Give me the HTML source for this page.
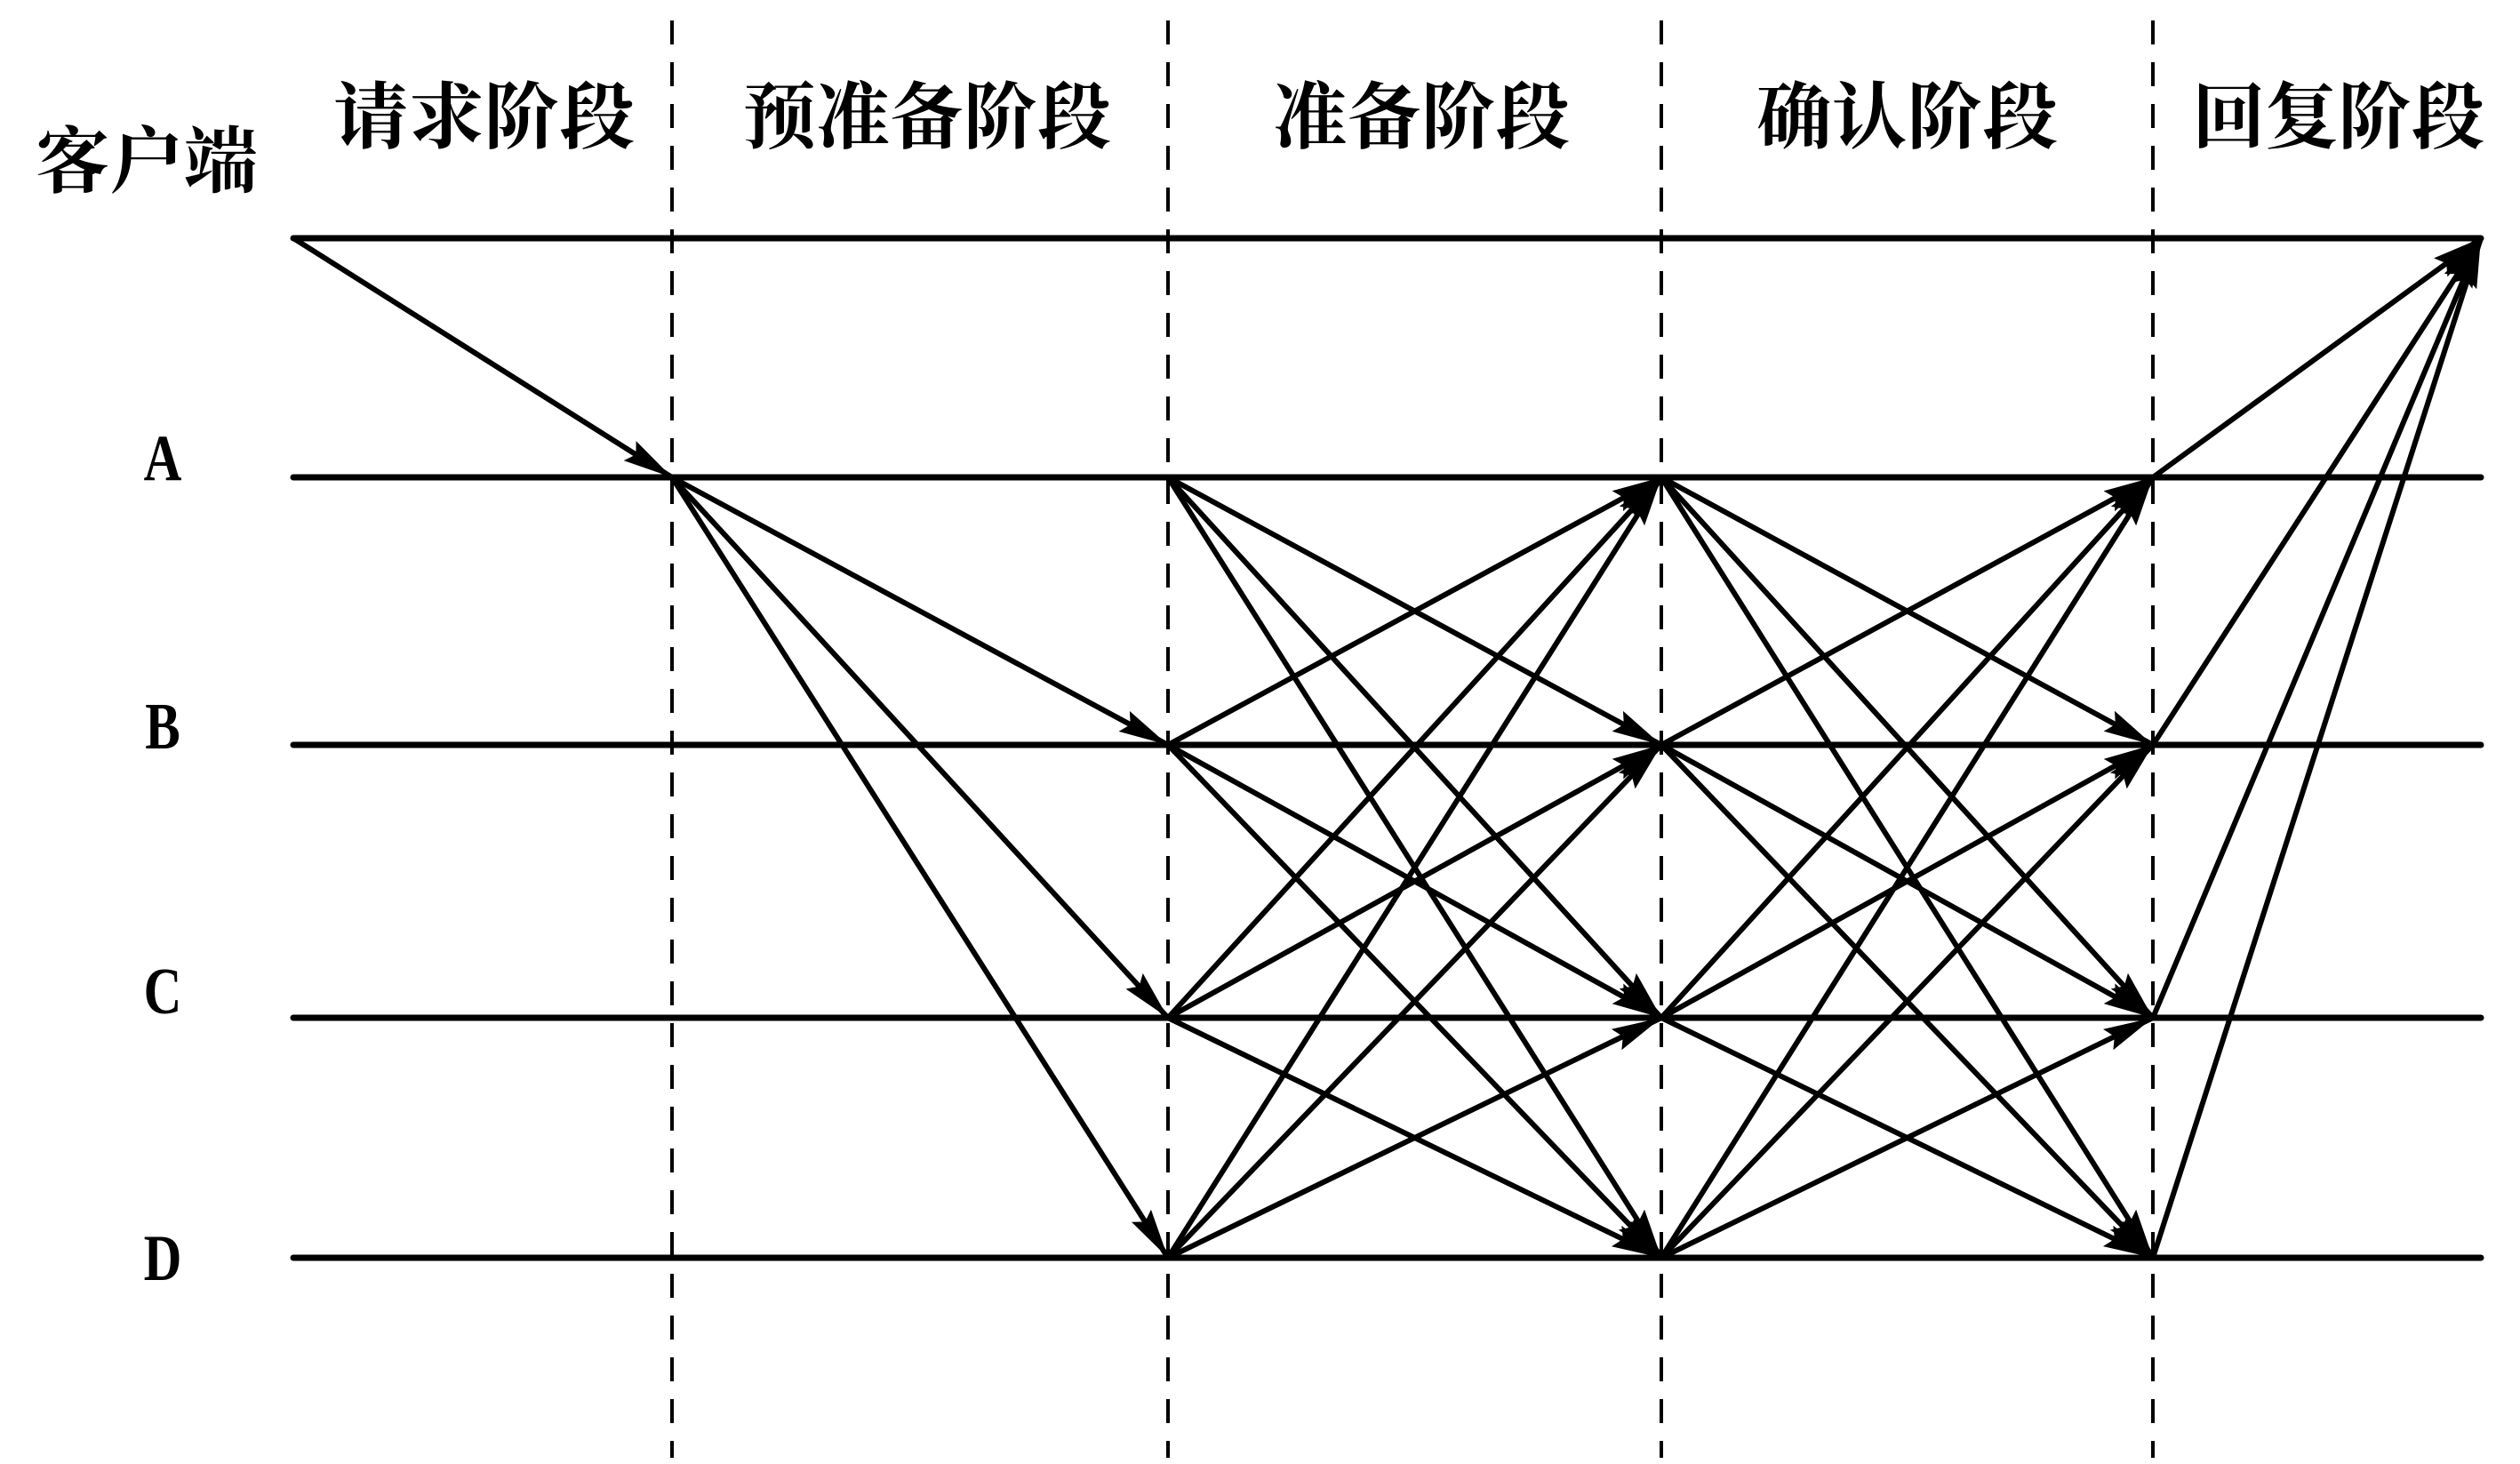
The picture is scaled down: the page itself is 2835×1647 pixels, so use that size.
<!DOCTYPE html>
<html><head><meta charset="utf-8"><style>html,body{margin:0;padding:0;background:#fff}svg{display:block}</style></head>
<body>
<svg width="2835" height="1647" viewBox="0 0 2835 1647" xmlns="http://www.w3.org/2000/svg">
<defs>
<marker id="ah" markerUnits="userSpaceOnUse" markerWidth="60" markerHeight="30" refX="56" refY="13" orient="auto">
<path d="M0,0 L56,13 L0,26 L8,13 Z" fill="#000"/>
</marker>
</defs>
<g stroke="#000" stroke-width="4" stroke-dasharray="27,20">
<line x1="756" y1="23" x2="756" y2="1640"/>
<line x1="1314" y1="23" x2="1314" y2="1640"/>
<line x1="1869" y1="23" x2="1869" y2="1640"/>
<line x1="2422" y1="23" x2="2422" y2="1640"/>
</g>
<g stroke="#000" stroke-width="7" stroke-linecap="round">
<line x1="330" y1="268" x2="2791" y2="268"/>
<line x1="330" y1="537" x2="2791" y2="537"/>
<line x1="330" y1="838" x2="2791" y2="838"/>
<line x1="330" y1="1145" x2="2791" y2="1145"/>
<line x1="330" y1="1415" x2="2791" y2="1415"/>
</g>
<g stroke="#000" stroke-width="6" marker-end="url(#ah)" fill="none">
<line x1="330" y1="268" x2="756" y2="537"/>
<line x1="756" y1="537" x2="1314" y2="838"/>
<line x1="756" y1="537" x2="1314" y2="1145"/>
<line x1="756" y1="537" x2="1314" y2="1415"/>
<line x1="1314" y1="537" x2="1869" y2="838"/>
<line x1="1314" y1="537" x2="1869" y2="1145"/>
<line x1="1314" y1="537" x2="1869" y2="1415"/>
<line x1="1314" y1="838" x2="1869" y2="537"/>
<line x1="1314" y1="838" x2="1869" y2="1145"/>
<line x1="1314" y1="838" x2="1869" y2="1415"/>
<line x1="1314" y1="1145" x2="1869" y2="537"/>
<line x1="1314" y1="1145" x2="1869" y2="838"/>
<line x1="1314" y1="1145" x2="1869" y2="1415"/>
<line x1="1314" y1="1415" x2="1869" y2="537"/>
<line x1="1314" y1="1415" x2="1869" y2="838"/>
<line x1="1314" y1="1415" x2="1869" y2="1145"/>
<line x1="1869" y1="537" x2="2422" y2="838"/>
<line x1="1869" y1="537" x2="2422" y2="1145"/>
<line x1="1869" y1="537" x2="2422" y2="1415"/>
<line x1="1869" y1="838" x2="2422" y2="537"/>
<line x1="1869" y1="838" x2="2422" y2="1145"/>
<line x1="1869" y1="838" x2="2422" y2="1415"/>
<line x1="1869" y1="1145" x2="2422" y2="537"/>
<line x1="1869" y1="1145" x2="2422" y2="838"/>
<line x1="1869" y1="1145" x2="2422" y2="1415"/>
<line x1="1869" y1="1415" x2="2422" y2="537"/>
<line x1="1869" y1="1415" x2="2422" y2="838"/>
<line x1="1869" y1="1415" x2="2422" y2="1145"/>
<line x1="2422" y1="537" x2="2791" y2="268"/>
<line x1="2422" y1="838" x2="2791" y2="268"/>
<line x1="2422" y1="1145" x2="2791" y2="268"/>
<line x1="2422" y1="1415" x2="2791" y2="268"/>
</g>
<g font-family="'Liberation Serif','Noto Serif CJK SC',serif" font-weight="bold" font-size="82" fill="#000">
<text x="375" y="160" textLength="339" lengthAdjust="spacingAndGlyphs">请求阶段</text>
<text x="835" y="160" textLength="415" lengthAdjust="spacingAndGlyphs">预准备阶段</text>
<text x="1432" y="160" textLength="334" lengthAdjust="spacingAndGlyphs">准备阶段</text>
<text x="1976" y="160" textLength="339" lengthAdjust="spacingAndGlyphs">确认阶段</text>
<text x="2466" y="160" textLength="329" lengthAdjust="spacingAndGlyphs">回复阶段</text>
<text x="40" y="210" textLength="250" lengthAdjust="spacingAndGlyphs">客户端</text>
</g>
<g font-family="'Liberation Serif',serif" font-weight="bold" font-size="74" fill="#000" text-anchor="middle">
<text x="183" y="540" transform="translate(183,0) scale(0.8,1) translate(-183,0)">A</text>
<text x="183" y="842" transform="translate(183,0) scale(0.8,1) translate(-183,0)">B</text>
<text x="183" y="1140" transform="translate(183,0) scale(0.8,1) translate(-183,0)">C</text>
<text x="183" y="1440" transform="translate(183,0) scale(0.8,1) translate(-183,0)">D</text>
</g>
</svg>
</body></html>
